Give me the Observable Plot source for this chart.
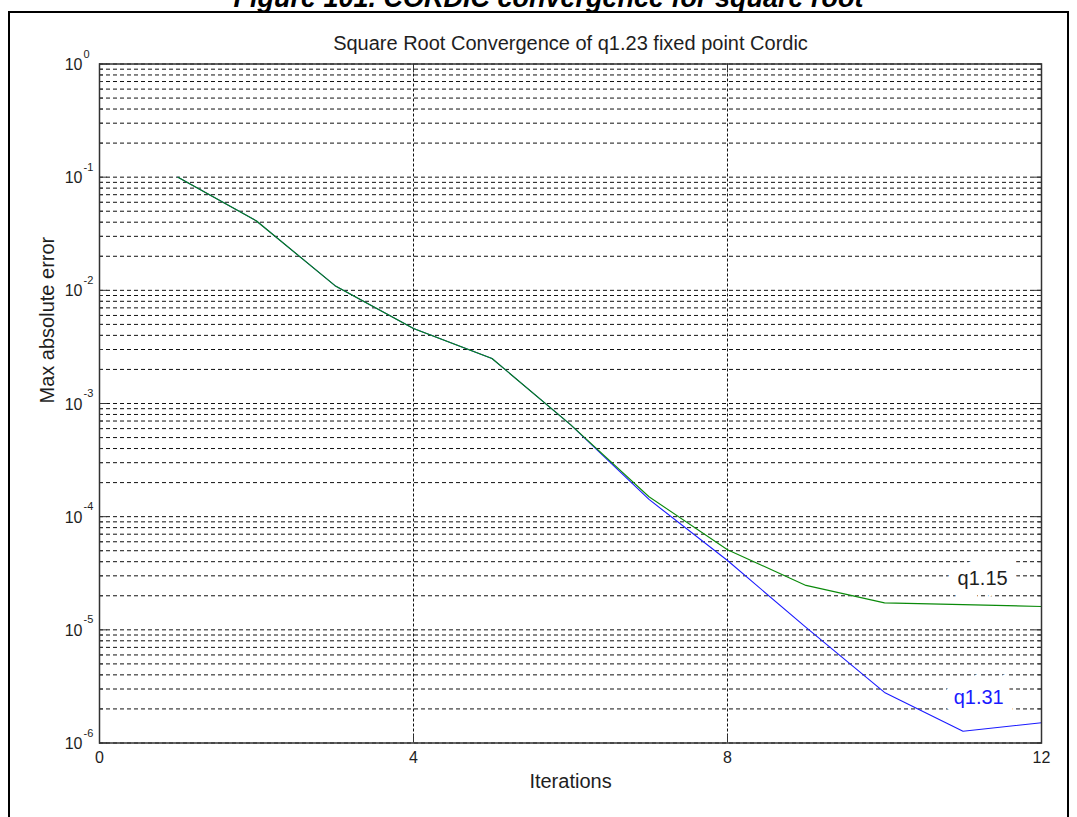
<!DOCTYPE html>
<html>
<head>
<meta charset="utf-8">
<script src="https://cdn.jsdelivr.net/npm/d3@7"></script>
<script src="https://cdn.jsdelivr.net/npm/@observablehq/plot@0.6"></script>
<style>
  html, body { margin: 0; padding: 0; background: white; }
  #wrap { position: relative; width: 1077px; height: 817px; overflow: hidden; }
  #border { position: absolute; left: 8px; top: 11px; width: 1061px; height: 900px; border: 2px solid #000; box-sizing: border-box; pointer-events: none; }
  #chart { position: absolute; left: 0; top: 0; }
</style>
</head>
<body>
<div id="wrap">
  <div id="chart"></div>
  <div id="border"></div>
</div>
<script>
// ---- data ----
const iterations = [1, 2, 3, 4, 5, 6, 7, 8, 9, 10, 11, 12];
const errQ115 = [0.1, 0.041, 0.011, 0.0046, 0.0025, 0.00065, 0.00015, 0.000051, 0.0000247, 0.0000173, 0.0000167, 0.0000161];
const errQ131 = [0.1, 0.041, 0.011, 0.0046, 0.0025, 0.00065, 0.000142, 0.000041, 0.0000105, 0.0000028, 0.00000127, 0.00000151];
const xTicks = [0, 4, 8, 12];
const yDecades = [1, 1e-1, 1e-2, 1e-3, 1e-4, 1e-5, 1e-6];
const yExponents = ["0", "-1", "-2", "-3", "-4", "-5", "-6"];
const minorMultipliers = [2, 3, 4, 5, 6, 7, 8, 9];
const seriesNames = ["q1.15", "q1.31"];
const labelPos = [{x: 11.25, y: 0.0000285}, {x: 11.2, y: 0.0000025}];
const colors = {q115: "#0a8a0a", q131: "#1a1aff", text: "#1e1e1e"};

const yMinor = [];
for (const d of yDecades.slice(1)) for (const m of minorMultipliers) yMinor.push(d * m);
const yGrid = yDecades.concat(yMinor);

const rows115 = iterations.map((it, i) => ({it, v: errQ115[i]}));
const rows131 = iterations.map((it, i) => ({it, v: errQ131[i]}));
const decadeRows = yDecades.map((d, i) => ({d, e: yExponents[i]}));
const labelRows = seriesNames.map((s, i) => ({s, ...labelPos[i], c: i === 0 ? colors.text : colors.q131}));

const font = "'Liberation Sans', Arial, Helvetica, sans-serif";

const chart = Plot.plot({
  width: 1077,
  height: 817,
  marginLeft: 99,
  marginRight: 36,
  marginTop: 63.5,
  marginBottom: 74.5,
  x: {domain: [0, 12]},
  y: {type: "log", domain: [1e-6, 1]},
  style: {fontFamily: font, background: "white", color: colors.text},
  marks: [
    // grid
    Plot.ruleY(yGrid, {stroke: "#111", strokeWidth: 1, strokeDasharray: "4,3"}),
    Plot.ruleX(xTicks.slice(1, 3), {stroke: "#111", strokeWidth: 1, strokeDasharray: "3,2"}),
    // in-plot labels with white backing
    Plot.text(labelRows, {x: "x", y: "y", text: "s", fill: "c", fontSize: 20, stroke: "white", strokeWidth: 20, strokeLinejoin: "miter", paintOrder: "stroke"}),
    // lines
    Plot.line(rows131, {x: "it", y: "v", stroke: colors.q131, strokeWidth: 1.1}),
    Plot.line(rows115, {x: "it", y: "v", stroke: colors.q115, strokeWidth: 1.1}),
    // frame
    Plot.frame({stroke: "#333", strokeWidth: 1.5}),
    // inward ticks
    Plot.axisY({anchor: "left", ticks: yDecades, tickSize: -8, tickFormat: () => "", stroke: "#333"}),
    Plot.axisY({anchor: "left", ticks: yMinor, tickSize: -4, tickFormat: () => "", stroke: "#333"}),
    Plot.axisY({anchor: "right", ticks: yDecades, tickSize: -8, tickFormat: () => "", stroke: "#333"}),
    Plot.axisY({anchor: "right", ticks: yMinor, tickSize: -4, tickFormat: () => "", stroke: "#333"}),
    Plot.axisX({anchor: "bottom", ticks: xTicks, tickSize: -8, tickFormat: () => "", stroke: "#333"}),
    Plot.axisX({anchor: "top", ticks: xTicks, tickSize: -8, tickFormat: () => "", stroke: "#333"}),
    // x tick labels
    Plot.text(xTicks, {x: d => d, frameAnchor: "bottom", dy: 15, text: d => String(d), fontSize: 16, fill: colors.text, lineAnchor: "middle"}),
    // y tick labels: 10 with superscript exponent
    Plot.text(decadeRows, {y: "d", frameAnchor: "left", dx: -17, dy: 1, text: () => "10", textAnchor: "end", fontSize: 16, fill: colors.text, lineAnchor: "middle"}),
    Plot.text(decadeRows, {y: "d", frameAnchor: "left", dx: -16, dy: -10, text: "e", textAnchor: "start", fontSize: 11, fill: colors.text, lineAnchor: "middle"}),
    // axis labels and titles
    Plot.text(["Iterations"], {frameAnchor: "bottom", dy: 39, text: d => d, fontSize: 20, fill: colors.text, lineAnchor: "middle"}),
    Plot.text(["Max absolute error"], {frameAnchor: "left", dx: -52, rotate: -90, text: d => d, fontSize: 20, fill: colors.text, lineAnchor: "middle"}),
    Plot.text(["Square Root Convergence of q1.23 fixed point Cordic"], {frameAnchor: "top", dy: -20, text: d => d, fontSize: 20, fill: colors.text, lineAnchor: "middle"}),
    Plot.text(["Figure 101. CORDIC convergence for square root"], {frameAnchor: "top", dx: -22, dy: -57.5, text: d => d, fontSize: 27, fontWeight: "bold", fontStyle: "italic", fill: "#000", lineAnchor: "bottom"})
  ]
});
document.getElementById("chart").appendChild(chart);
</script>
</body>
</html>
